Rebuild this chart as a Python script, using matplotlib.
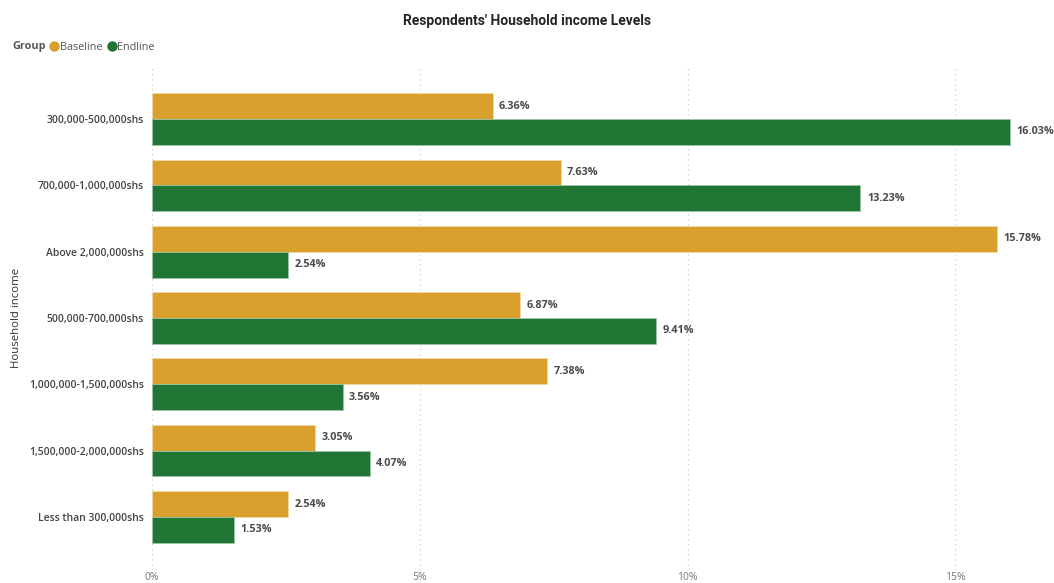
import matplotlib
matplotlib.use("Agg")
import matplotlib.pyplot as plt
from matplotlib.lines import Line2D
import numpy as np

categories = ["300,000-500,000shs", "700,000-1,000,000shs", "Above 2,000,000shs",
              "500,000-700,000shs", "1,000,000-1,500,000shs", "1,500,000-2,000,000shs",
              "Less than 300,000shs"]
baseline = [6.36, 7.63, 15.78, 6.87, 7.38, 3.05, 2.54]
endline = [16.03, 13.23, 2.54, 9.41, 3.56, 4.07, 1.53]
xticks = [0, 5, 10, 15]
xtick_labels = ["0%", "5%", "10%", "15%"]

C_BASE = "#D9A02D"
C_END = "#217535"

plt.rcParams['font.family'] = ['Open Sans', 'DejaVu Sans']

W, H = 1054, 583
fig = plt.figure(figsize=(W / 100, H / 100), dpi=100)
ax = fig.add_axes([152 / W, 1 - 570 / H, (W - 152) / W, (570 - 66) / H])

y = np.arange(len(categories))
bh = 0.39
ax.barh(y - bh / 2, baseline, height=bh, color=C_BASE, edgecolor="#f0d9a8", linewidth=0.6, zorder=3)
ax.barh(y + bh / 2, endline, height=bh, color=C_END, edgecolor="#9cc3a5", linewidth=0.6, zorder=3)

for yi, v in zip(y, baseline):
    ax.text(v + 0.12, yi - bh / 2, f"{v:.2f}%", va="center", ha="left", fontsize=7.8,
            color="#4a4a4a", fontweight="bold")
for yi, v in zip(y, endline):
    ax.text(v + 0.12, yi + bh / 2, f"{v:.2f}%", va="center", ha="left", fontsize=7.8,
            color="#4a4a4a", fontweight="bold")

ax.set_xlim(0, (W - 152) / 53.55)
ax.set_ylim(len(categories) - 0.2, -0.8)
ax.set_yticks(y)
ax.set_yticklabels(categories, fontsize=7.5, color="#444444", fontweight="semibold")
ax.set_xticks(xticks)
ax.set_xticklabels(xtick_labels, fontsize=7.5, color="#777777")
ax.tick_params(axis="y", length=0, pad=6)
ax.tick_params(axis="x", length=0, pad=1.5)
for s in ax.spines.values():
    s.set_visible(False)
ax.grid(axis="x", linestyle=(0, (1, 3)), color="#cccccc", linewidth=0.9, zorder=0)
ax.set_axisbelow(True)

ax.set_ylabel("Household income", fontsize=8.2, color="#333333")
ax.yaxis.set_label_coords(-130 / (W - 152), 0.5)

fig.text(0.5, 1 - 21 / H, "Respondents' Household income Levels", ha="center", va="center",
         fontsize=10, fontweight="bold", color="#252423", family=['Roboto', 'DejaVu Sans'])

fig.text(12 / W, 1 - 47 / H, "Group", ha="left", va="center", fontsize=7.8,
         fontweight="bold", color="#555555")
handles = [Line2D([], [], marker="o", linestyle="none", color=C_BASE, markersize=6.5),
           Line2D([], [], marker="o", linestyle="none", color=C_END, markersize=6.5)]
fig.legend(handles, ["Baseline", "Endline"], loc="center left",
           bbox_to_anchor=(49 / W, 1 - 47 / H), ncol=2, frameon=False,
           handletextpad=0.0, columnspacing=0.4, handlelength=1.0,
           prop={'size': 7.8}, labelcolor="#555555", borderaxespad=0, borderpad=0)

fig.savefig("out.png", dpi=100)
